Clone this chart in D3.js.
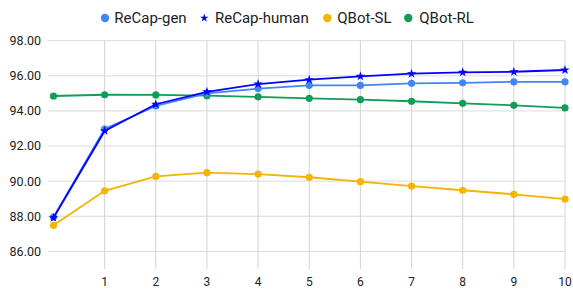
<!DOCTYPE html>
<html><head><meta charset="utf-8">
<script src="https://cdn.jsdelivr.net/npm/d3@7"></script>
<style>body{margin:0;background:#fff;}svg{display:block;font-family:Roboto,Arial,sans-serif;}</style>
</head><body><svg id="c" width="573" height="289"></svg>
<script>
const xs = [0,1,2,3,4,5,6,7,8,9,10];
const xTicks = [1,2,3,4,5,6,7,8,9,10];
const yTicks = [86,88,90,92,94,96,98];
const recapGen   = [87.95,92.97,94.28,95.00,95.27,95.46,95.45,95.57,95.60,95.66,95.66];
const recapHuman = [87.91,92.86,94.38,95.09,95.53,95.78,95.97,96.12,96.20,96.23,96.33];
const qbotSL     = [87.48,89.45,90.27,90.48,90.40,90.22,89.97,89.72,89.48,89.25,88.98];
const qbotRL     = [94.85,94.92,94.91,94.87,94.80,94.72,94.64,94.55,94.43,94.32,94.17];
const seriesNames = ["ReCap-gen","ReCap-human","QBot-SL","QBot-RL"];
const seriesColors = ["#4285F4","#0000FF","#F4B400","#0F9D58"];
const seriesMarkers = ["circle","star","circle","circle"];
const seriesData = [recapGen, recapHuman, qbotSL, qbotRL];

const svg = d3.select("#c");
const x = d3.scaleLinear().domain([0,10]).range([53.5,565]);
const y = d3.scaleLinear().domain([85,98]).range([268.9,40.7]);
const plotLeft = 48, plotRight = 565;

svg.append("g").selectAll("line").data(yTicks).join("line")
  .attr("x1",plotLeft).attr("x2",plotRight)
  .attr("y1",d=>y(d)).attr("y2",d=>y(d))
  .attr("stroke","#dadada").attr("stroke-width",1);
svg.append("g").selectAll("line").data(xTicks).join("line")
  .attr("x1",d=>x(d)).attr("x2",d=>x(d))
  .attr("y1",y(98)).attr("y2",y(85))
  .attr("stroke","#d3d3d3").attr("stroke-width",1);

svg.append("g").selectAll("text").data(yTicks).join("text")
  .attr("x",41).attr("y",d=>y(d)).attr("dy","0.35em")
  .attr("text-anchor","end").attr("font-size",12.5).attr("fill","#222")
  .text(d=>d3.format(".2f")(d));
svg.append("g").selectAll("text").data(xTicks).join("text")
  .attr("x",d=>x(d)).attr("y",286)
  .attr("text-anchor","middle").attr("font-size",12).attr("fill","#222")
  .text(d=>d);

const line = d3.line().x((d,i)=>x(xs[i])).y(d=>y(d));
const starSym = d3.symbol().type(d3.symbolStar).size(28);
const order = [3,2,0,1];
order.forEach(k=>{
  const g = svg.append("g");
  g.append("path").datum(seriesData[k]).attr("d",line)
    .attr("fill","none").attr("stroke",seriesColors[k]).attr("stroke-width",1.8);
  if (seriesMarkers[k]==="circle") {
    g.selectAll("circle").data(seriesData[k]).join("circle")
      .attr("cx",(d,i)=>x(xs[i])).attr("cy",d=>y(d)).attr("r",3.6)
      .attr("fill",seriesColors[k]);
  } else {
    g.selectAll("path.pt").data(seriesData[k]).join("path").attr("class","pt")
      .attr("transform",(d,i)=>`translate(${x(xs[i])},${y(d)})`)
      .attr("d",starSym).attr("fill",seriesColors[k]);
  }
});

const legX = [105,204.3,327.3,408.3];
const legTx = [114.3,215,337.3,419.3];
const leg = svg.append("g");
seriesNames.forEach((n,k)=>{
  if (seriesMarkers[k]==="circle") {
    leg.append("circle").attr("cx",legX[k]).attr("cy",18).attr("r",4.2).attr("fill",seriesColors[k]);
  } else {
    leg.append("path").attr("transform",`translate(${legX[k]},18)`)
      .attr("d",d3.symbol().type(d3.symbolStar).size(22)).attr("fill",seriesColors[k]);
  }
  leg.append("text").attr("x",legTx[k]).attr("y",18).attr("dy","0.35em")
    .attr("font-size",15).attr("fill","#222").text(n);
});
</script></body></html>
